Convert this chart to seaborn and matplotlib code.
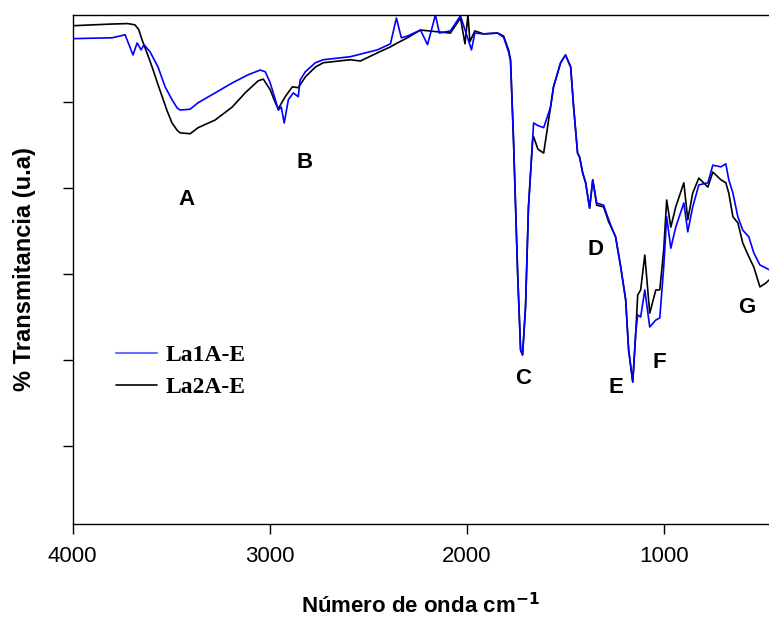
import matplotlib
matplotlib.use("Agg")
import matplotlib.pyplot as plt
from matplotlib.lines import Line2D
import seaborn as sns

# La2A-E (black) spectrum: wavenumber (cm-1) and transmittance (a.u.)
wn_la2 = [4000, 3900, 3800, 3720, 3684, 3665, 3648, 3620, 3597, 3570, 3546,
          3520, 3496, 3470, 3455, 3404,
          3364, 3277, 3191, 3125, 3059, 3033, 2998, 2972, 2957, 2922, 2886,
          2856, 2820, 2769, 2729, 2592, 2541, 2454, 2388, 2353, 2302, 2236,
          2150, 2084, 2033, 2010, 1995, 1985, 1960, 1916, 1845, 1814, 1789,
          1779, 1764, 1743, 1728, 1718, 1703, 1688, 1667, 1662, 1640, 1611,
          1576, 1561, 1525, 1500, 1474, 1459, 1439, 1429, 1413, 1398, 1378,
          1362, 1342, 1307, 1281, 1261, 1246, 1220, 1195, 1180, 1159, 1144,
          1134, 1119, 1098, 1073, 1042, 1022, 1002, 987, 966, 941, 900, 880,
          855, 824, 778, 753, 712, 687, 672, 651, 626, 601, 570, 545, 514,
          484, 468]
t_la2 = [97.7, 97.9, 98.1, 98.2, 97.9, 96.8, 94.4, 91.0, 88.1, 84.4, 81.2,
         77.8, 75.1, 73.4, 72.8, 72.6,
         74.0, 75.8, 78.8, 82.1, 84.9, 85.3, 82.8, 79.8, 78.4, 81.2, 83.5,
         83.3, 85.8, 88.1, 89.1, 89.8, 89.5, 91.4, 92.8, 93.7, 94.9, 96.7,
         96.3, 96.0, 99.5, 93.5, 100.2, 94.0, 96.5, 95.8, 96.0, 95.3, 92.1,
         89.8, 71.2, 40.2, 22.3, 21.2, 32.3, 55.6, 71.2, 71.9, 69.0, 68.1,
         78.8, 83.5, 89.1, 90.9, 88.1, 78.8, 68.1, 67.2, 63.5, 61.2, 55.3,
         61.9, 56.0, 55.6, 52.1, 50.2, 48.6, 41.6, 34.0, 22.3, 14.9, 26.3,
         35.1, 36.3, 44.4, 30.9, 36.3, 36.3, 45.6, 57.2, 50.9, 55.6, 61.2,
         52.6, 58.8, 62.3, 60.2, 63.7, 61.9, 61.2, 58.8, 53.3, 51.9, 47.2,
         44.0, 41.6, 37.0, 37.9, 38.6]

# La1A-E (blue) spectrum
wn_la1 = [4000, 3998, 3900, 3800, 3734, 3694, 3673, 3653, 3638, 3607, 3567,
          3531, 3496, 3470, 3455, 3404, 3364, 3277, 3191, 3110, 3049, 3023,
          2998, 2972, 2957, 2942, 2927, 2906, 2881, 2856, 2846, 2820, 2769,
          2729, 2592, 2454, 2388, 2358, 2333, 2302, 2236, 2200, 2160, 2140,
          2084, 2033, 1977, 1960, 1916, 1845, 1814, 1789, 1779, 1764, 1743,
          1728, 1718, 1703, 1688, 1667, 1662, 1640, 1611, 1576, 1561, 1525,
          1500, 1474, 1459, 1439, 1429, 1413, 1398, 1378, 1362, 1342, 1307,
          1281, 1261, 1246, 1220, 1195, 1180, 1159, 1144, 1134, 1119, 1098,
          1073, 1042, 1022, 1002, 987, 966, 941, 900, 880, 855, 824, 778,
          753, 712, 687, 672, 651, 626, 601, 570, 545, 514, 484, 468]
t_la1 = [80.5, 94.7, 94.8, 94.9, 95.6, 90.9, 93.7, 92.1, 93.3, 91.6, 88.1,
         83.5, 80.5, 78.6, 78.1, 78.3, 79.8, 82.1, 84.4, 86.3, 87.4, 87.0,
         84.4, 80.5, 78.1, 78.8, 75.1, 80.5, 82.1, 81.2, 85.1, 87.0, 89.1,
         89.8, 90.5, 92.1, 93.5, 99.5, 94.9, 95.3, 96.7, 93.3, 100.2, 96.0,
         96.5, 100.0, 92.1, 96.0, 95.8, 96.0, 95.0, 91.6, 89.5, 71.2, 40.2,
         22.3, 21.2, 32.3, 55.6, 71.2, 75.1, 74.5, 74.0, 78.8, 83.5, 89.1,
         90.9, 88.1, 78.8, 68.1, 67.2, 63.5, 61.2, 55.3, 61.9, 56.5, 56.0,
         52.6, 50.2, 48.6, 41.6, 34.0, 22.3, 14.9, 26.3, 30.5, 30.0, 36.3,
         27.7, 29.3, 29.8, 41.6, 53.3, 46.0, 50.9, 56.5, 49.8, 55.6, 60.7,
         61.2, 65.3, 64.9, 65.6, 61.9, 58.8, 53.3, 50.2, 48.6, 44.9, 42.1,
         41.4, 41.0]

# band labels
band_names = ["A", "B", "C", "D", "E", "F", "G"]
band_wn = [3425, 2825, 1717, 1347, 1246, 1022, 580]
band_t = [57.4, 66.0, 15.6, 45.6, 13.7, 19.5, 32.1]

series_names = ["La1A-E", "La2A-E"]
y_ticks = [0, 20, 40, 60, 80]

sns.set_style("ticks")
plt.rcParams['font.family'] = ['Liberation Sans', 'DejaVu Sans']
plt.rcParams['text.color'] = 'black'
plt.rcParams['axes.labelcolor'] = 'black'

fig = plt.figure(figsize=(7.69, 6.19), dpi=100)
ax = fig.add_axes([0.0945, 0.1535, 0.9055, 0.8223])

sns.lineplot(x=wn_la2, y=t_la2, color="black", lw=1.2, estimator=None,
             sort=False, ax=ax)
sns.lineplot(x=wn_la1, y=t_la1, color="#0000ff", lw=1.2, estimator=None,
             sort=False, ax=ax)

ax.set_xlim(4000, 468)
ax.set_ylim(-18.1, 100.2)
ax.set_xticks([4000, 3000, 2000, 1000])
ax.set_yticks(y_ticks)
ax.set_yticklabels([])
ax.tick_params(axis="x", labelsize=16, length=7, width=1, pad=9,
               colors="black")
ax.tick_params(axis="y", length=7, width=1, colors="black")
for side in ["left", "bottom", "top"]:
    ax.spines[side].set_visible(True)
    ax.spines[side].set_color("black")
    ax.spines[side].set_linewidth(1)
ax.spines["right"].set_visible(False)

ax.set_xlabel("Número de onda cm$^{\\mathbf{-1}}$", fontsize=16,
              fontweight="bold")
ax.xaxis.set_label_coords(0.50, -0.135)
ax.set_ylabel("% Transmitancia (u.a)", fontsize=17, fontweight="bold")
ax.yaxis.set_label_coords(-0.053, 0.5)

for name, x, y in zip(band_names, band_wn, band_t):
    ax.text(x, y, name, fontsize=16, fontweight="bold", ha="center",
            va="center")

handles = [Line2D([], [], color="#6f6fff", lw=1.5),
           Line2D([], [], color="black", lw=1.2)]
ax.legend(handles, series_names, loc="center left",
          bbox_to_anchor=(0.062, 0.30), frameon=False, handlelength=1.75,
          handletextpad=0.35, labelspacing=0.45, borderpad=0,
          borderaxespad=0,
          prop={"family": "Liberation Serif", "weight": "bold", "size": 17})

fig.savefig("out.png", dpi=100)
